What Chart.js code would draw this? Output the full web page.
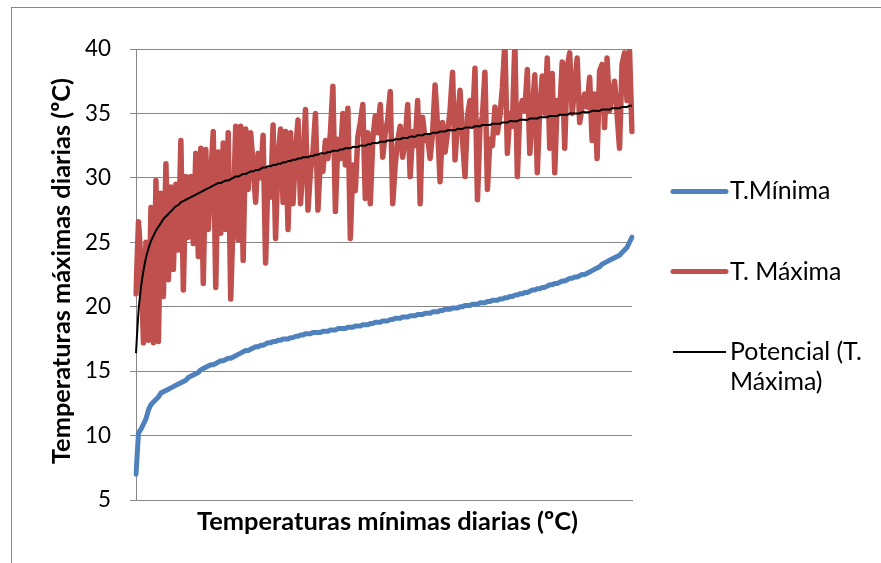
<!DOCTYPE html>
<html><head><meta charset="utf-8">
<script src="https://cdn.jsdelivr.net/npm/chart.js@4.4.1/dist/chart.umd.min.js"></script>
<style>html,body{margin:0;padding:0;background:#fff;overflow:hidden}canvas{display:block}</style>
</head><body>
<canvas id="c" width="881" height="563"></canvas>
<script>
// ---- data ----
const seriesNames = ["T.Mínima", "T. Máxima", "Potencial (T. Máxima)"];
const yTicks = [5, 10, 15, 20, 25, 30, 35, 40];
const xTitle = "Temperaturas mínimas diarias (ºC)";
const yTitle = "Temperaturas máximas diarias (ºC)";

const tMin = [
 7.0,10.2,10.5,10.9,11.3,12.0,12.4,12.6,12.8,13.0,
 13.3,13.4,13.5,13.6,13.7,13.8,13.9,14.0,14.1,14.2,
 14.3,14.5,14.6,14.7,14.8,14.9,15.1,15.2,15.3,15.4,
 15.5,15.5,15.6,15.7,15.8,15.8,15.9,16.0,16.0,16.1,
 16.2,16.3,16.4,16.5,16.6,16.6,16.7,16.8,16.9,16.9,
 17.0,17.0,17.1,17.2,17.2,17.3,17.3,17.4,17.4,17.5,
 17.5,17.5,17.6,17.6,17.7,17.7,17.8,17.8,17.9,17.9,
 17.9,18.0,18.0,18.0,18.0,18.1,18.1,18.1,18.2,18.2,
 18.2,18.3,18.3,18.3,18.3,18.4,18.4,18.4,18.5,18.5,
 18.5,18.6,18.6,18.6,18.7,18.7,18.8,18.8,18.8,18.9,
 18.9,18.9,19.0,19.0,19.1,19.1,19.1,19.2,19.2,19.2,
 19.3,19.3,19.3,19.4,19.4,19.4,19.5,19.5,19.5,19.6,
 19.6,19.6,19.7,19.7,19.8,19.8,19.8,19.9,19.9,19.9,
 20.0,20.0,20.1,20.1,20.1,20.2,20.2,20.2,20.3,20.3,
 20.3,20.4,20.4,20.5,20.5,20.5,20.6,20.6,20.7,20.7,
 20.8,20.8,20.9,20.9,21.0,21.0,21.1,21.1,21.2,21.3,
 21.3,21.4,21.4,21.5,21.5,21.6,21.7,21.7,21.8,21.8,
 21.9,22.0,22.0,22.1,22.2,22.2,22.3,22.3,22.4,22.5,
 22.5,22.6,22.7,22.8,22.9,23.0,23.1,23.3,23.4,23.5,
 23.6,23.7,23.8,23.9,24.0,24.2,24.4,24.6,25.0,25.4
];

const tMax = [
 21.0,26.6,23.5,17.2,25.0,17.4,27.7,17.2,29.8,17.3,
 28.8,20.8,31.1,22.1,29.3,22.9,29.5,24.4,32.9,21.3,
 30.1,25.4,30.1,24.9,31.9,23.9,32.3,21.8,32.2,26.0,
 30.0,33.6,21.5,32.0,25.7,32.7,26.0,33.5,20.6,27.0,
 34.0,25.2,34.0,23.6,33.8,29.1,33.5,31.0,28.1,31.9,
 30.0,33.3,23.4,30.6,28.5,34.1,25.3,31.5,33.8,28.1,
 33.6,26.0,33.5,28.0,32.0,34.5,28.0,31.0,35.3,27.5,
 30.5,32.0,35.0,27.5,31.6,30.5,32.9,31.5,33.5,37.1,
 27.4,33.0,31.5,35.0,31.0,35.4,25.3,31.0,29.0,33.2,
 34.3,35.7,28.4,33.5,28.0,33.0,34.8,33.5,35.7,31.6,
 33.5,34.5,36.7,28.0,31.0,32.9,34.0,31.6,33.0,35.7,
 30.1,33.6,32.5,36.0,28.0,34.7,32.9,33.2,31.5,33.5,
 37.2,34.0,29.7,34.3,32.0,33.5,35.2,38.2,31.4,34.3,
 36.8,33.0,30.1,34.8,36.0,34.0,38.5,28.3,33.9,34.8,
 38.2,29.1,33.0,32.5,35.5,33.5,34.8,37.0,40.5,31.9,
 35.0,34.0,40.5,30.1,35.2,36.0,35.2,38.4,31.9,35.0,
 38.0,30.4,35.5,37.9,35.0,39.3,32.3,38.1,30.4,36.0,
 35.0,39.0,32.3,38.6,39.7,35.0,37.0,39.3,34.3,35.5,
 36.5,35.5,37.8,32.9,36.5,31.5,38.3,38.8,33.9,39.3,
 35.2,36.5,37.5,35.0,32.3,38.8,39.7,36.0,39.9,33.6
];

const trendMax = [
 16.4,19.6,21.5,22.8,23.8,24.5,25.1,25.5,25.9,26.2,
 26.5,26.8,27.0,27.2,27.4,27.6,27.8,27.9,28.1,28.2,
 28.3,28.4,28.5,28.6,28.7,28.8,28.9,29.0,29.1,29.2,
 29.3,29.4,29.5,29.6,29.6,29.7,29.8,29.8,29.9,30.0,
 30.1,30.1,30.2,30.3,30.3,30.4,30.5,30.5,30.6,30.6,
 30.7,30.8,30.8,30.9,30.9,31.0,31.0,31.1,31.1,31.2,
 31.2,31.3,31.3,31.4,31.4,31.5,31.5,31.6,31.6,31.6,
 31.7,31.7,31.8,31.8,31.9,31.9,31.9,32.0,32.0,32.1,
 32.1,32.1,32.2,32.2,32.3,32.3,32.3,32.4,32.4,32.4,
 32.5,32.5,32.5,32.6,32.6,32.7,32.7,32.7,32.8,32.8,
 32.8,32.9,32.9,32.9,33.0,33.0,33.0,33.1,33.1,33.1,
 33.2,33.2,33.2,33.3,33.3,33.3,33.4,33.4,33.4,33.5,
 33.5,33.5,33.6,33.6,33.6,33.7,33.7,33.7,33.7,33.8,
 33.8,33.8,33.9,33.9,33.9,33.9,34.0,34.0,34.0,34.1,
 34.1,34.1,34.1,34.2,34.2,34.2,34.2,34.3,34.3,34.3,
 34.4,34.4,34.4,34.4,34.5,34.5,34.5,34.5,34.6,34.6,
 34.6,34.6,34.7,34.7,34.7,34.7,34.8,34.8,34.8,34.8,
 34.9,34.9,34.9,34.9,35.0,35.0,35.0,35.0,35.0,35.1,
 35.1,35.1,35.1,35.2,35.2,35.2,35.2,35.3,35.3,35.3,
 35.3,35.4,35.4,35.4,35.4,35.5,35.5,35.5,35.6,35.6
];

const categories = tMin.map((_, i) => String(i + 1));

// ---- styling ----
const FAMILY = 'Lato, "Open Sans", sans-serif';
const GRAY = '#888888';
const BLUE = '#4F81BD';
const RED = '#C0504D';

function fitSize(text, weight, target) {
  const ctx = document.createElement('canvas').getContext('2d');
  ctx.font = `${weight} 100px ${FAMILY}`;
  return 100 * target / ctx.measureText(text).width;
}
const tickSize = fitSize('40', 'normal', 26);
const titleSize = fitSize(xTitle, 'bold', 381);
const legendSize = fitSize('T. Máxima', 'normal', 111.5);

const decor = {
  id: 'decor',
  afterDraw(chart) {
    const ctx = chart.ctx;
    ctx.save();
    // outer chart border
    ctx.strokeStyle = GRAY;
    ctx.lineWidth = 1;
    ctx.strokeRect(11.5, 7.5, 900, 600);
    // axis titles
    ctx.fillStyle = '#000';
    ctx.font = `bold ${titleSize}px ${FAMILY}`;
    ctx.textAlign = 'center';
    ctx.textBaseline = 'alphabetic';
    ctx.fillText(xTitle, 387.5, 530);
    ctx.save();
    ctx.translate(70, 271);
    ctx.rotate(-Math.PI / 2);
    ctx.fillText(yTitle, 0, 0);
    ctx.restore();
    // legend
    const items = [
      {color: BLUE, w: 5, y: 191.5, lines: [[seriesNames[0], 199.3]]},
      {color: RED, w: 5, y: 271.5, lines: [[seriesNames[1], 280]]},
      {color: '#000', w: 1.8, y: 352, lines: [['Potencial (T.', 359.5], ['Máxima)', 390]]}
    ];
    ctx.font = `${legendSize}px ${FAMILY}`;
    ctx.textAlign = 'left';
    for (const it of items) {
      ctx.beginPath();
      ctx.strokeStyle = it.color;
      ctx.lineWidth = it.w;
      ctx.lineCap = it.w > 2 ? 'round' : 'butt';
      ctx.moveTo(673, it.y);
      ctx.lineTo(726, it.y);
      ctx.stroke();
      for (const [t, by] of it.lines) ctx.fillText(t, 730, by);
    }
    ctx.restore();
  }
};

new Chart(document.getElementById('c'), {
  type: 'line',
  data: {
    labels: categories,
    datasets: [
      {label: seriesNames[2], data: trendMax, borderColor: '#000', borderWidth: 2,
       pointRadius: 0, tension: 0.3, fill: false},
      {label: seriesNames[1], data: tMax, borderColor: RED, borderWidth: 5.5,
       borderCapStyle: 'round', borderJoinStyle: 'round', pointRadius: 0, tension: 0, fill: false},
      {label: seriesNames[0], data: tMin, borderColor: BLUE, borderWidth: 5,
       borderCapStyle: 'round', borderJoinStyle: 'round', pointRadius: 0, tension: 0, fill: false}
    ]
  },
  options: {
    responsive: false,
    animation: false,
    devicePixelRatio: 1,
    layout: {padding: {left: 0, top: 49, right: 249, bottom: 0}},
    plugins: {legend: {display: false}, tooltip: {enabled: false}, title: {display: false}},
    scales: {
      x: {
        type: 'category',
        offset: false,
        ticks: {display: false},
        grid: {display: false},
        border: {display: true, color: GRAY, width: 1},
        afterFit(s) { s.height = 63; }
      },
      y: {
        min: 5, max: 40,
        afterBuildTicks(s) { s.ticks = yTicks.map(v => ({value: v})); },
        ticks: {color: '#000', padding: 19, font: {family: FAMILY, size: tickSize}},
        grid: {color: GRAY, lineWidth: 1, drawTicks: true, tickLength: 6, tickColor: GRAY},
        border: {display: true, color: GRAY, width: 1},
        afterFit(s) { s.width = 136; }
      }
    }
  },
  plugins: [decor]
});
</script>
</body></html>
